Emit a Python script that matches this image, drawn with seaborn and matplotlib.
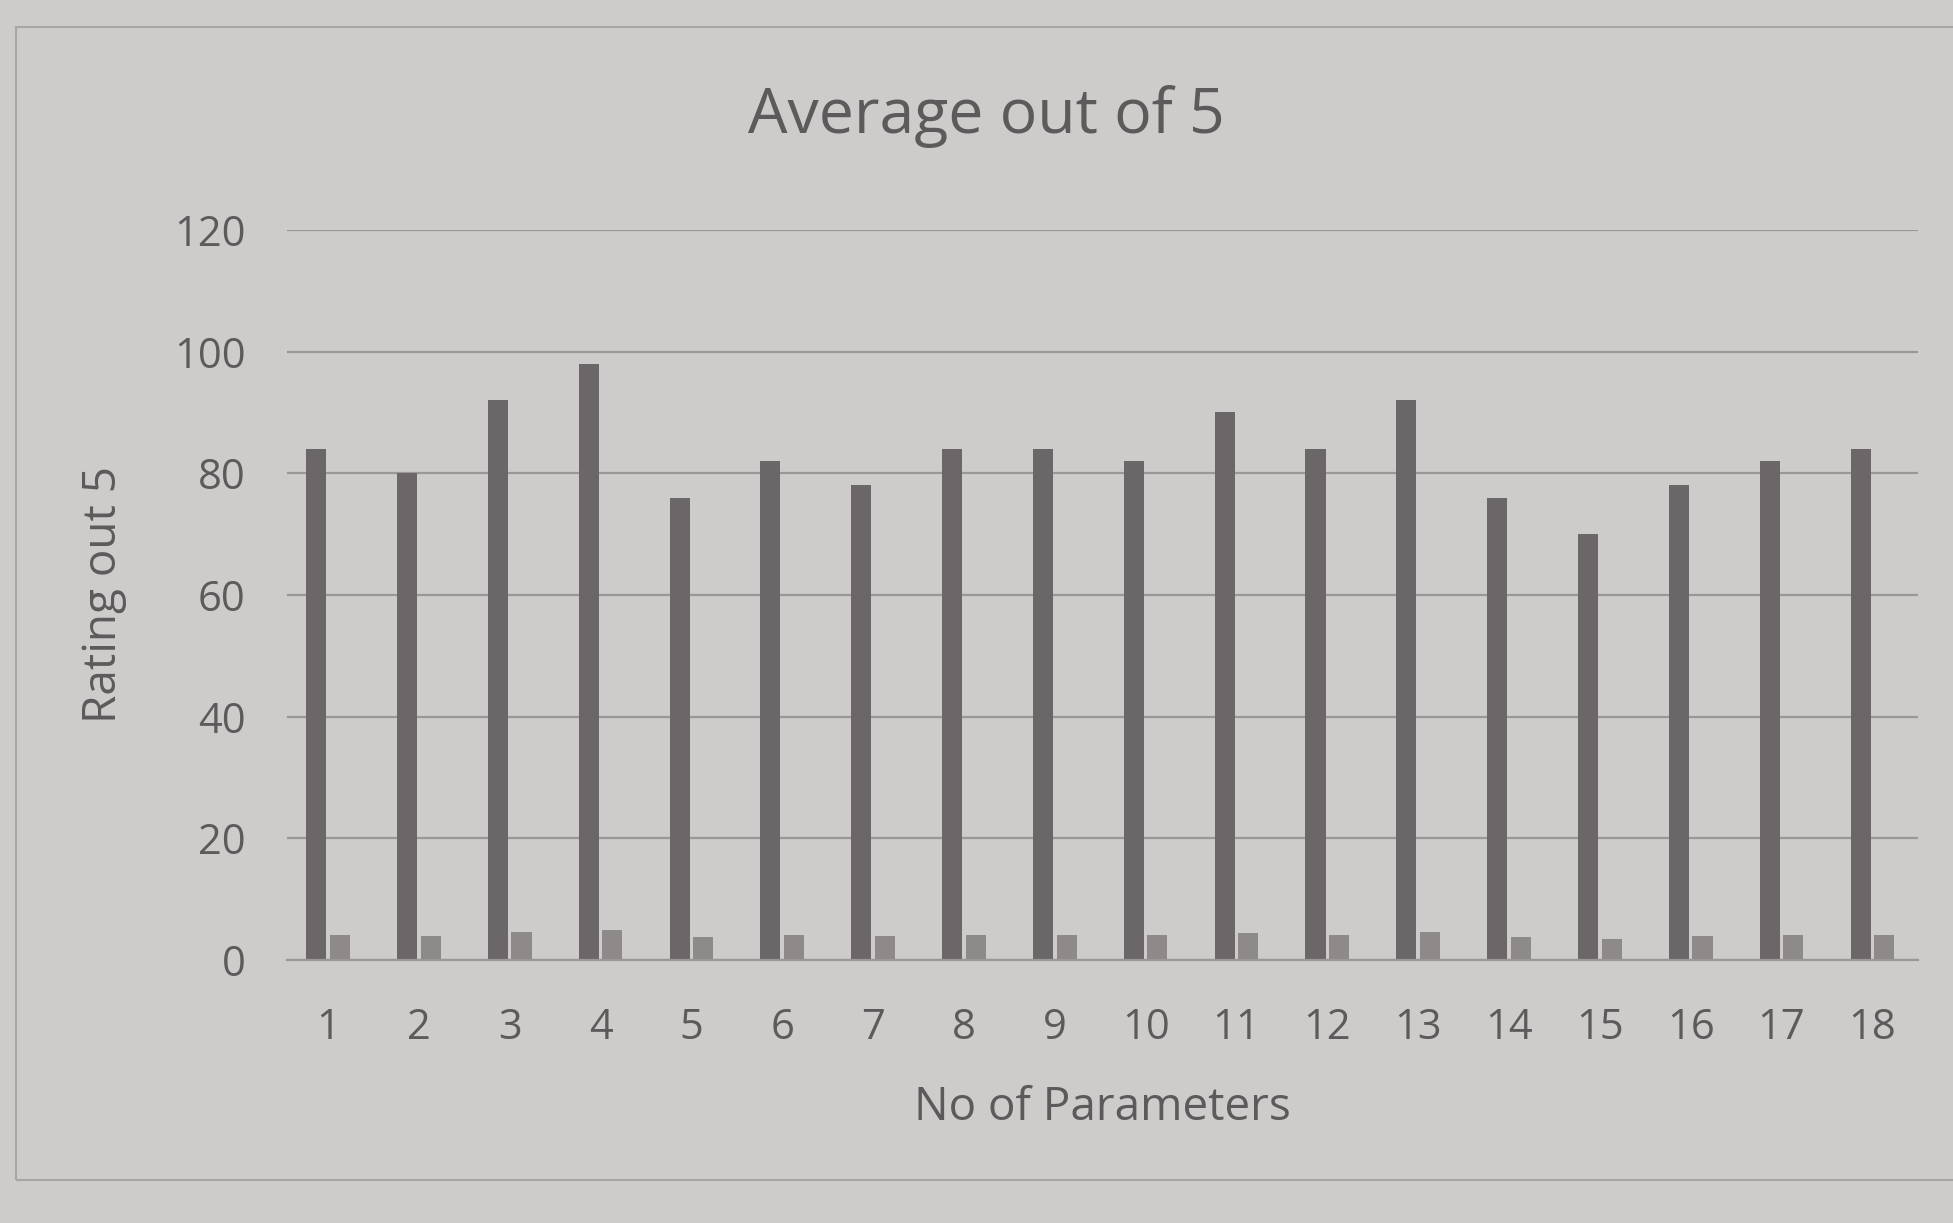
import matplotlib
matplotlib.use("Agg")
import matplotlib.pyplot as plt
import seaborn as sns
import pandas as pd
from matplotlib.patches import Rectangle

categories = [str(i) for i in range(1, 19)]
percent_values = [84, 80, 92, 98, 76, 82, 78, 84, 84, 82, 90, 84, 92, 76, 70, 78, 82, 84]
average_values = [4.2, 4.0, 4.6, 4.9, 3.8, 4.1, 3.9, 4.2, 4.2, 4.1, 4.5, 4.2, 4.6, 3.8, 3.5, 3.9, 4.1, 4.2]
series_names = ["Percentage", "Average"]
y_ticks = [0, 20, 40, 60, 80, 100, 120]

df = pd.DataFrame({
    "param": categories * 2,
    "value": percent_values + average_values,
    "series": [series_names[0]] * len(categories) + [series_names[1]] * len(categories),
})

sns.set_theme(style="white")
plt.rcParams["font.family"] = ["Open Sans", "DejaVu Sans"]

bg = "#cecbcb"
text_c = "#5c5a5a"
fig = plt.figure(figsize=(19.53, 12.23), dpi=100, facecolor=bg)
ax = fig.add_axes([0.147, 0.215, 0.835, 0.597])
ax.set_facecolor(bg)

sns.barplot(data=df, x="param", y="value", hue="series", order=categories,
            hue_order=series_names, palette=["#6b6768", "#8e8a8a"],
            width=0.52, gap=0.15, legend=False, ax=ax, saturation=1,
            linewidth=0, edgecolor="none")

ax.set_ylim(0, 120)
ax.set_yticks(y_ticks)
ax.set_xlim(-0.45, 17.5)
ax.yaxis.grid(True, color="#9b9797", linewidth=1.6)
ax.set_axisbelow(True)
for s in ["top", "right", "left"]:
    ax.spines[s].set_visible(False)
ax.spines["bottom"].set_color("#9b9797")
ax.spines["bottom"].set_linewidth(1.6)
ax.tick_params(axis="both", length=0, labelsize=30, colors=text_c)
ax.tick_params(axis="x", pad=34)
ax.tick_params(axis="y", pad=30)

ax.set_xlabel("No of Parameters", fontsize=33, color=text_c, labelpad=26)
ax.set_ylabel("Rating out 5", fontsize=33, color=text_c, labelpad=34)
fig.text(0.505, 0.905, "Average out of 5", ha="center", va="center",
         fontsize=45, color=text_c)

fig.patches.append(Rectangle((0.008, 0.035), 1.0, 0.943, transform=fig.transFigure,
                             fill=False, edgecolor="#a9a5a5", linewidth=1.5))

fig.savefig("out.png", dpi=100, facecolor=bg)
